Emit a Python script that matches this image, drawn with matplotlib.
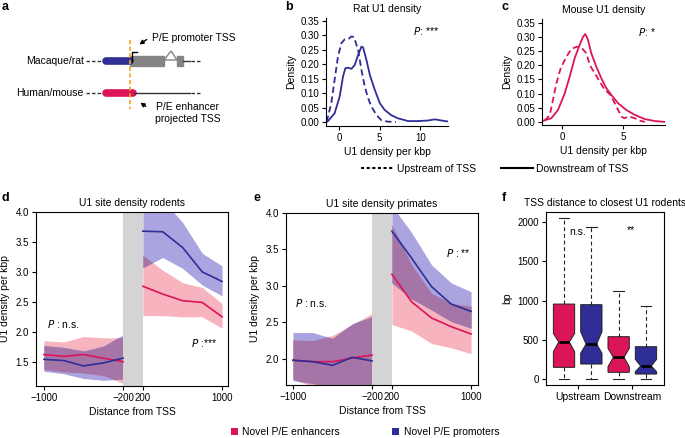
import numpy as np
import matplotlib
matplotlib.use("Agg")
import matplotlib.pyplot as plt
from matplotlib.patches import Patch, Polygon, Rectangle
from matplotlib.lines import Line2D

plt.rcParams['font.family'] = ['Liberation Sans', 'DejaVu Sans']
plt.rcParams['font.size'] = 7
plt.rcParams['axes.linewidth'] = 0.8
plt.rcParams['xtick.major.size'] = 3
plt.rcParams['ytick.major.size'] = 3
plt.rcParams['xtick.major.width'] = 0.8
plt.rcParams['ytick.major.width'] = 0.8

RED = '#DC1459'
BLUE = '#2E2E96'
PINK = '#F8B4BE'
LAV = '#AAA5E1'
OVER = '#A575A8'

# --- panel b: rat U1 density
rat_down_x = [-1.5, -1.36, -0.54, 0.08, 0.49, 0.78, 1.11, 1.52, 1.93, 2.35, 2.76, 2.96, 3.37,
              3.79, 4.4, 5.02, 5.6, 6.4, 7.2, 8.5, 9.7, 10.95, 11.8, 12.6, 13.3]
rat_down_y = [0, 0.003, 0.03, 0.088, 0.157, 0.186, 0.188, 0.184, 0.197, 0.232, 0.261, 0.258, 0.215,
              0.163, 0.111, 0.065, 0.042, 0.024, 0.013, 0.003, 0.003, 0.005, 0.009, 0.005, 0.002]
rat_up_x = [-1.55, -1.36, -0.95, -0.54, -0.13, 0.29, 0.7, 1.11, 1.52, 1.85, 2.35, 2.76, 3.17,
            3.58, 3.99, 4.6, 5.2, 6.0, 7.0]
rat_up_y = [0, 0.018, 0.065, 0.146, 0.226, 0.273, 0.286, 0.286, 0.296, 0.294, 0.249, 0.18, 0.122,
            0.082, 0.053, 0.024, 0.006, 0.001, 0]

# --- panel c: mouse U1 density
mouse_down_x = [-1.64, -0.87, -0.33, 0.22, 0.63, 1.04, 1.45, 1.72, 1.91, 2.13, 2.4, 2.81, 3.22,
                3.63, 4.04, 4.59, 5.27, 5.95, 6.77, 7.6, 8.4]
mouse_down_y = [0.003, 0.013, 0.042, 0.10, 0.16, 0.225, 0.272, 0.30, 0.31, 0.289, 0.242, 0.195, 0.154,
                0.119, 0.095, 0.066, 0.042, 0.025, 0.01, 0.003, 0.0]
mouse_up_x = [-1.42, -1.0, -0.74, -0.46, -0.11, 0.36, 0.77, 1.18, 1.59, 2.0, 2.27, 2.68, 3.09,
              3.5, 3.91, 4.18, 4.6, 4.86, 5.1, 5.5, 5.95, 6.4, 6.8]
mouse_up_y = [0.004, 0.025, 0.078, 0.136, 0.189, 0.23, 0.257, 0.265, 0.262, 0.242, 0.201, 0.172, 0.142,
              0.113, 0.098, 0.078, 0.042, 0.019, 0.013, 0.019, 0.013, 0.004, 0]

# --- panels d/e: distance from TSS
up_dist = [-1000, -800, -600, -400, -200]
down_dist = [200, 400, 600, 800, 1000]

rod_enh_up = [1.62, 1.59, 1.62, 1.56, 1.50]
rod_enh_up_lo = [1.37, 1.33, 1.31, 1.27, 1.14]
rod_enh_up_hi = [1.85, 1.83, 1.92, 1.90, 1.90]
rod_pro_up = [1.54, 1.52, 1.43, 1.48, 1.56]
rod_pro_up_lo = [1.34, 1.30, 1.22, 1.19, 1.21]
rod_pro_up_hi = [1.77, 1.74, 1.68, 1.76, 1.95]
rod_enh_down = [2.76, 2.63, 2.52, 2.49, 2.25]
rod_enh_down_lo = [2.27, 2.27, 2.25, 2.25, 2.06]
rod_enh_down_hi = [3.28, 3.03, 2.82, 2.74, 2.47]
rod_pro_down = [3.68, 3.67, 3.41, 3.00, 2.84]
rod_pro_down_lo = [3.07, 3.24, 3.06, 2.78, 2.60]
rod_pro_down_hi = [4.30, 4.20, 3.83, 3.31, 3.10]

pri_enh_up = [1.98, 1.96, 1.96, 2.01, 2.05]
pri_enh_up_lo = [1.72, 1.62, 1.55, 1.50, 1.45]
pri_enh_up_hi = [2.26, 2.25, 2.32, 2.47, 2.62]
pri_pro_up = [1.98, 1.96, 1.91, 2.02, 1.97]
pri_pro_up_lo = [1.70, 1.66, 1.60, 1.55, 1.50]
pri_pro_up_hi = [2.36, 2.36, 2.28, 2.48, 2.58]
pri_enh_down = [3.16, 2.78, 2.56, 2.44, 2.34]
pri_enh_down_lo = [2.47, 2.38, 2.21, 2.15, 2.07]
pri_enh_down_hi = [3.84, 3.29, 2.90, 2.76, 2.72]
pri_pro_down = [3.75, 3.38, 2.99, 2.75, 2.65]
pri_pro_down_lo = [3.04, 2.82, 2.67, 2.51, 2.42]
pri_pro_down_hi = [4.10, 3.73, 3.29, 3.04, 2.92]

# --- panel f: TSS distance boxplots
box_groups = ['Upstream', 'Upstream', 'Downstream', 'Downstream']
box_med = [473, 448, 279, 169]
box_q1 = [152, 194, 89, 67]
box_q3 = [955, 947, 541, 414]
box_lo = [0, 0, 0, 0]
box_hi = [2050, 1937, 1124, 934]
box_cilo = [350, 330, 160, 96]
box_cihi = [583, 604, 393, 254]

W, H = 685, 438
fig = plt.figure(figsize=(W / 100, H / 100), dpi=100)


def rect(l, t, r, b):
    return [l / W, 1 - b / H, (r - l) / W, (b - t) / H]


def pos(d):
    # broken axis: -1000..-200 -> 0..8, 200..1000 -> 10..18
    d = np.asarray(d, dtype=float)
    return np.where(d < 0, (d + 1000) / 100, (d - 200) / 100 + 10)


# ---------------- panel a (schematic)
ax = fig.add_axes([0, 0, 1, 1])
ax.set_xlim(0, W)
ax.set_ylim(H, 0)
ax.axis('off')
ax.text(84, 61, 'Macaque/rat', ha='right', va='center', fontsize=7.5)
ax.text(84, 93, 'Human/mouse', ha='right', va='center', fontsize=7.5)
ax.plot([86, 103], [61, 61], color='#333333', lw=1, ls=(0, (2.5, 1.5)))
ax.plot([86, 103], [93, 93], color='#333333', lw=1, ls=(0, (2.5, 1.5)))
ax.plot([106, 130], [61, 61], color='#2E3192', lw=5.5, solid_capstyle='round')
ax.add_patch(Rectangle((130, 56), 34, 10, color='#858585'))
ax.add_patch(Polygon([[164, 60], [171, 51], [177, 60]], closed=True, fill=False,
                     edgecolor='#858585', lw=1))
ax.add_patch(Rectangle((177, 56), 6, 10, color='#858585'))
ax.plot([183, 190], [61, 61], color='#333333', lw=1)
ax.plot([191, 202], [61, 61], color='#333333', lw=1, ls=(0, (2.5, 1.5)))
ax.plot([106, 133], [93, 93], color=RED, lw=5.5, solid_capstyle='round')
ax.plot([134, 190], [93, 93], color='#333333', lw=1)
ax.plot([191, 202], [93, 93], color='#333333', lw=1, ls=(0, (2.5, 1.5)))
ax.plot([130, 130], [40, 109], color='#F5A623', lw=1.2, ls=(0, (2.5, 1.5)))
ax.plot([132, 132, 137], [61, 52, 52], color='black', lw=1)
ax.annotate('', xy=(137, 46), xytext=(149, 38),
            arrowprops=dict(arrowstyle='-|>', color='black', lw=1, mutation_scale=6))
ax.text(152, 38, 'P/E promoter TSS', ha='left', va='center', fontsize=7.5)
ax.annotate('', xy=(138, 101), xytext=(148, 108),
            arrowprops=dict(arrowstyle='-|>', color='black', lw=1, mutation_scale=6))
ax.text(188, 113, 'P/E enhancer\nprojected TSS', ha='center', va='center', fontsize=7.5,
        linespacing=1.3)

# panel letters
for lab, x, y in [('a', 2, 7), ('b', 285, 7), ('c', 502, 7), ('d', 2, 198),
                  ('e', 253, 198), ('f', 502, 198)]:
    fig.text(x / W, 1 - y / H, lab, fontsize=9, fontweight='bold', va='center', ha='left')


# ---------------- panels b, c (densities)
def density_panel(r, xs_d, ys_d, xs_u, ys_u, color, xlim, ylim, xticks, title, ptxt):
    a = fig.add_axes(rect(*r))
    a.plot(xs_d, ys_d, color=color, lw=1.3)
    a.plot(xs_u, ys_u, color=color, lw=1.3, ls=(0, (3.5, 2)))
    a.set_xlim(*xlim)
    a.set_ylim(*ylim)
    a.set_xticks(xticks)
    a.set_yticks(np.arange(0, 0.36, 0.05))
    a.set_yticklabels(['%.2f' % v for v in np.arange(0, 0.36, 0.05)])
    a.spines['top'].set_visible(False)
    a.spines['right'].set_visible(False)
    a.spines['left'].set_bounds(ylim[0], ylim[1])
    a.set_ylabel('Density', fontsize=7.5, labelpad=3)
    a.set_xlabel('U1 density per kbp', fontsize=7.5, labelpad=3)
    a.set_title(title, fontsize=7.5, pad=4)
    a.text(0.93, 0.88, ptxt, transform=a.transAxes, ha='right', va='center', fontsize=7.5)
    a.tick_params(pad=2)
    return a


density_panel((326, 18, 448, 126), rat_down_x, rat_down_y, rat_up_x, rat_up_y, BLUE,
              (-1.6, 13.4), (-0.014, 0.36), [0, 5, 10], 'Rat U1 density', r'$\it{P}$: ***')
density_panel((542, 19, 665, 125), mouse_down_x, mouse_down_y, mouse_up_x, mouse_up_y, RED,
              (-1.64, 8.44), (-0.011, 0.363), [0, 5], 'Mouse U1 density', r'$\it{P}$: *')

leg1 = [Line2D([], [], color='black', lw=1.5, ls=(0, (1.5, 1.2))),
        Line2D([], [], color='black', lw=1.5)]
fig.legend(leg1, ['Upstream of TSS', 'Downstream of TSS'], loc='center',
           bbox_to_anchor=(495 / W, 1 - 169 / H), ncol=2, frameon=False, fontsize=7.5,
           handlelength=3.1, columnspacing=2.4, handletextpad=0.3, borderpad=0)


# ---------------- panels d, e (site density around TSS)
def band(a, x, lo1, hi1, lo2, hi2):
    x = pos(x)
    a.fill_between(x, lo1, hi1, color=PINK, lw=0)
    a.fill_between(x, lo2, hi2, color=LAV, lw=0)
    xs = np.linspace(x[0], x[-1], 300)
    lo = np.maximum(np.interp(xs, x, lo1), np.interp(xs, x, lo2))
    hi = np.minimum(np.interp(xs, x, hi1), np.interp(xs, x, hi2))
    a.fill_between(xs, lo, hi, where=hi > lo, color=OVER, lw=0, interpolate=True)


def site_panel(r, xlim, ylim, yticks, title, data):
    a = fig.add_axes(rect(*r))
    for (d, e, elo, ehi, p, plo, phi) in data:
        band(a, d, elo, ehi, plo, phi)
    for (d, e, elo, ehi, p, plo, phi) in data:
        a.plot(pos(d), e, color=RED, lw=1.2)
        a.plot(pos(d), p, color=BLUE, lw=1.2)
    a.axvspan(8, 10, color='#D3D4D3', lw=0)
    a.set_xlim(*xlim)
    a.set_ylim(*ylim)
    a.set_xticks(pos([-1000, -200, 200, 1000]))
    a.set_xticklabels(['\u22121000', '\u2212200', '200', '1000'])
    a.set_yticks(yticks)
    a.set_yticklabels(['%.1f' % v for v in yticks])
    a.set_xlabel('Distance from TSS', fontsize=7.5, labelpad=3)
    a.set_ylabel('U1 density per kbp', fontsize=7.5, labelpad=4)
    a.set_title(title, fontsize=7.5, pad=4)
    a.tick_params(pad=2)
    return a


ad = site_panel((36, 212, 228, 386), (-0.8, 18.6), (1.095, 4.0), [1.5, 2.0, 2.5, 3.0, 3.5, 4.0],
                'U1 site density rodents',
                [(up_dist, rod_enh_up, rod_enh_up_lo, rod_enh_up_hi, rod_pro_up, rod_pro_up_lo, rod_pro_up_hi),
                 (down_dist, rod_enh_down, rod_enh_down_lo, rod_enh_down_hi,
                  rod_pro_down, rod_pro_down_lo, rod_pro_down_hi)])
ad.text(0.3, 2.13, r'$\it{P}$ : n.s.', fontsize=7.5, va='center')
ad.text(14.9, 1.81, r'$\it{P}$ :***', fontsize=7.5, va='center')

ae = site_panel((286, 213, 478, 385), (-0.7, 18.7), (1.64, 4.0), [2.0, 2.5, 3.0, 3.5, 4.0],
                'U1 site density primates',
                [(up_dist, pri_enh_up, pri_enh_up_lo, pri_enh_up_hi, pri_pro_up, pri_pro_up_lo, pri_pro_up_hi),
                 (down_dist, pri_enh_down, pri_enh_down_lo, pri_enh_down_hi,
                  pri_pro_down, pri_pro_down_lo, pri_pro_down_hi)])
ae.text(0.2, 2.76, r'$\it{P}$ : n.s.', fontsize=7.5, va='center')
ae.text(15.45, 3.45, r'$\it{P}$ : **', fontsize=7.5, va='center')

# ---------------- panel f (boxplots)
af = fig.add_axes(rect(546, 212, 664, 385))
stats = []
for i in range(4):
    stats.append(dict(med=box_med[i], q1=box_q1[i], q3=box_q3[i], whislo=box_lo[i],
                      whishi=box_hi[i], cilo=box_cilo[i], cihi=box_cihi[i], fliers=[]))
bp = af.bxp(stats, positions=[1, 2, 3, 4], widths=0.78, shownotches=True, patch_artist=True,
            showfliers=False, capwidths=0.4,
            boxprops=dict(edgecolor='#222222', lw=0.7),
            medianprops=dict(color='black', lw=2),
            whiskerprops=dict(color='#222222', lw=0.8, ls=(0, (3.5, 2.5))),
            capprops=dict(color='#222222', lw=0.8))
for b, c in zip(bp['boxes'], [RED, BLUE, RED, BLUE]):
    b.set_facecolor(c)
af.set_xlim(0.34, 4.66)
af.set_ylim(-72, 2123)
af.set_xticks([1.5, 3.5])
af.set_xticklabels(['Upstream', 'Downstream'], fontsize=7.5)
af.set_yticks([0, 500, 1000, 1500, 2000])
af.set_ylabel('bp', fontsize=7.5, labelpad=4)
af.set_title('TSS distance to closest U1 rodents', fontsize=7.5, pad=4)
af.text(1.5, 1869, 'n.s.', ha='center', va='center', fontsize=7.5)
af.text(3.45, 1890, '**', ha='center', va='center', fontsize=7.5)
af.tick_params(pad=2)

# bottom legend
leg2 = [Patch(facecolor=RED, edgecolor='none'), Patch(facecolor=BLUE, edgecolor='none')]
fig.legend(leg2, ['Novel P/E enhancers', 'Novel P/E promoters'], loc='center',
           bbox_to_anchor=(365 / W, 1 - 432 / H), ncol=2, frameon=False, fontsize=7.5,
           handlelength=0.7, handleheight=0.7, columnspacing=5.0, handletextpad=0.4, borderpad=0)

fig.savefig('out.png', dpi=100)
